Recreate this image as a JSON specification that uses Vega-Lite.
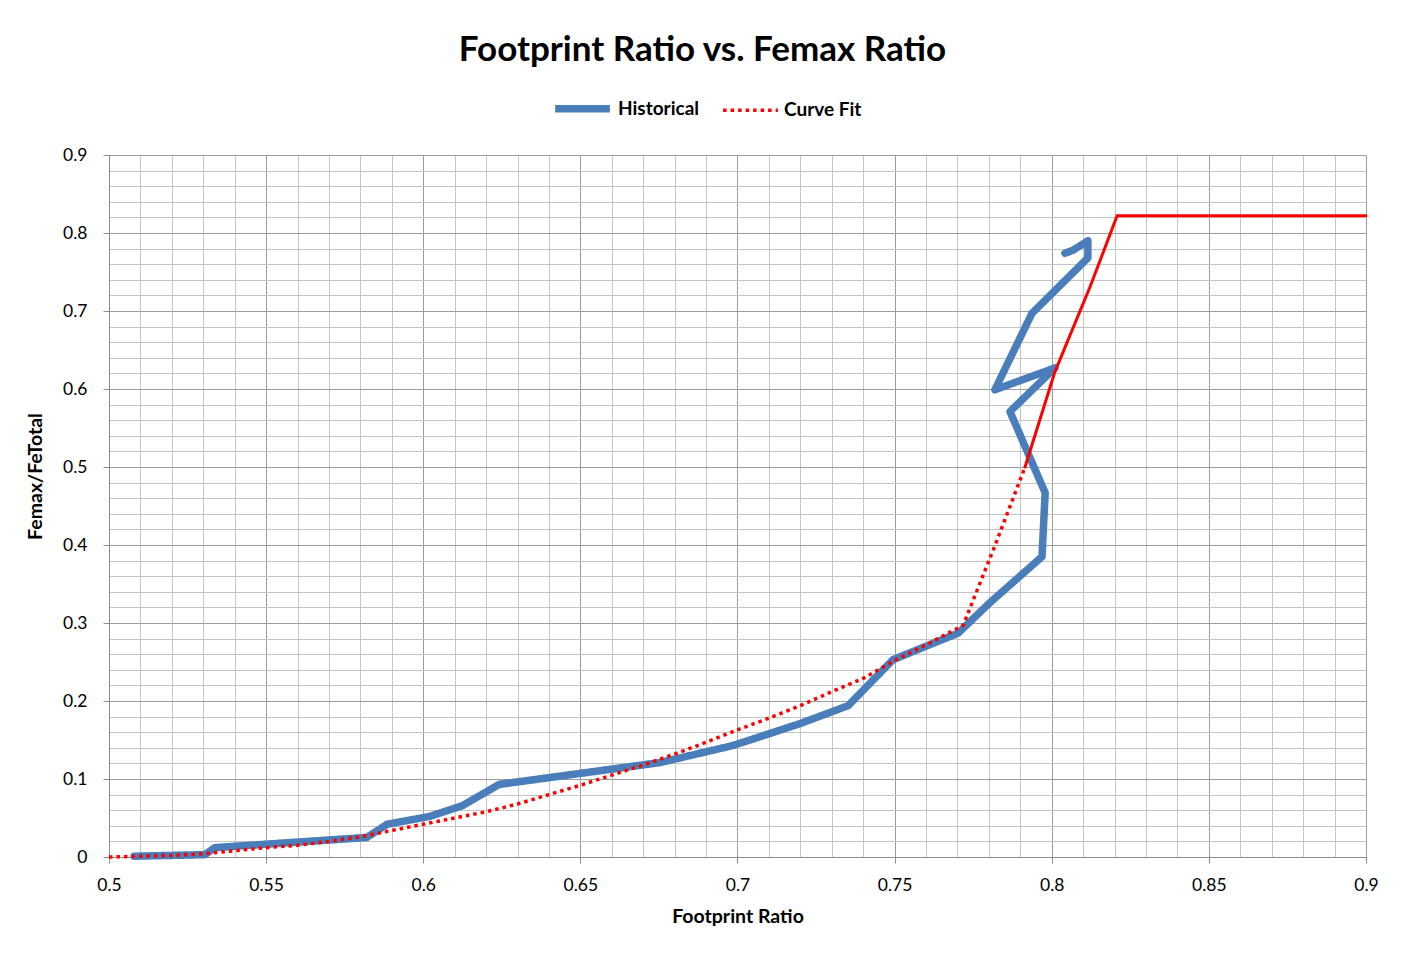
{
  "$schema": "https://vega.github.io/schema/vega-lite/v6.json",
  "width": 1257,
  "height": 702,
  "autosize": {"type": "none"},
  "padding": {"left": 109, "top": 155, "right": 42, "bottom": 102},
  "background": "white",
  "title": {"text": "Footprint Ratio vs. Femax Ratio", "font": "Lato", "fontSize": 35, "fontWeight": "bold", "color": "black", "anchor": "middle", "dx": -35, "offset": 9},
  "config": {
    "view": {"stroke": null},
    "axis": {"labelFont": "Lato", "labelFontSize": 17.5, "labelColor": "black", "titleFont": "Lato", "titleFontSize": 19.5, "titleFontWeight": "bold", "titleColor": "black", "format": "~g", "labelFlush": false}
  },
  "datasets": {
    "hist": [
      {"series": "Historical", "i": 1, "x": 0.508, "y": 0.001},
      {"series": "Historical", "i": 2, "x": 0.5305, "y": 0.003},
      {"series": "Historical", "i": 3, "x": 0.5337, "y": 0.012},
      {"series": "Historical", "i": 4, "x": 0.582, "y": 0.025},
      {"series": "Historical", "i": 5, "x": 0.5885, "y": 0.042},
      {"series": "Historical", "i": 6, "x": 0.602, "y": 0.052},
      {"series": "Historical", "i": 7, "x": 0.6126, "y": 0.066},
      {"series": "Historical", "i": 8, "x": 0.6241, "y": 0.093},
      {"series": "Historical", "i": 9, "x": 0.6753, "y": 0.121},
      {"series": "Historical", "i": 10, "x": 0.6986, "y": 0.143},
      {"series": "Historical", "i": 11, "x": 0.7199, "y": 0.171},
      {"series": "Historical", "i": 12, "x": 0.7352, "y": 0.194},
      {"series": "Historical", "i": 13, "x": 0.7495, "y": 0.253},
      {"series": "Historical", "i": 14, "x": 0.7702, "y": 0.287},
      {"series": "Historical", "i": 15, "x": 0.7803, "y": 0.326},
      {"series": "Historical", "i": 16, "x": 0.7969, "y": 0.385},
      {"series": "Historical", "i": 17, "x": 0.7979, "y": 0.467},
      {"series": "Historical", "i": 18, "x": 0.7867, "y": 0.571},
      {"series": "Historical", "i": 19, "x": 0.801, "y": 0.627},
      {"series": "Historical", "i": 20, "x": 0.7819, "y": 0.599},
      {"series": "Historical", "i": 21, "x": 0.7931, "y": 0.692},
      {"series": "Historical", "i": 22, "x": 0.7937, "y": 0.697},
      {"series": "Historical", "i": 23, "x": 0.8115, "y": 0.768},
      {"series": "Historical", "i": 24, "x": 0.8115, "y": 0.79},
      {"series": "Historical", "i": 25, "x": 0.8068, "y": 0.778},
      {"series": "Historical", "i": 26, "x": 0.8042, "y": 0.774}
    ],
    "fit": [
      {"series": "Curve Fit", "x": 0.5, "y": 0.0},
      {"series": "Curve Fit", "x": 0.51, "y": 0.001},
      {"series": "Curve Fit", "x": 0.52, "y": 0.002},
      {"series": "Curve Fit", "x": 0.53, "y": 0.004},
      {"series": "Curve Fit", "x": 0.54, "y": 0.008},
      {"series": "Curve Fit", "x": 0.55, "y": 0.012},
      {"series": "Curve Fit", "x": 0.56, "y": 0.015},
      {"series": "Curve Fit", "x": 0.57, "y": 0.02},
      {"series": "Curve Fit", "x": 0.58, "y": 0.026},
      {"series": "Curve Fit", "x": 0.59, "y": 0.034},
      {"series": "Curve Fit", "x": 0.6, "y": 0.042},
      {"series": "Curve Fit", "x": 0.61, "y": 0.05},
      {"series": "Curve Fit", "x": 0.62, "y": 0.058},
      {"series": "Curve Fit", "x": 0.63, "y": 0.068},
      {"series": "Curve Fit", "x": 0.64, "y": 0.08},
      {"series": "Curve Fit", "x": 0.65, "y": 0.092},
      {"series": "Curve Fit", "x": 0.66, "y": 0.105},
      {"series": "Curve Fit", "x": 0.67, "y": 0.118},
      {"series": "Curve Fit", "x": 0.68, "y": 0.132},
      {"series": "Curve Fit", "x": 0.69, "y": 0.147},
      {"series": "Curve Fit", "x": 0.7, "y": 0.163},
      {"series": "Curve Fit", "x": 0.71, "y": 0.178},
      {"series": "Curve Fit", "x": 0.72, "y": 0.194},
      {"series": "Curve Fit", "x": 0.73, "y": 0.212},
      {"series": "Curve Fit", "x": 0.74, "y": 0.229},
      {"series": "Curve Fit", "x": 0.75, "y": 0.252},
      {"series": "Curve Fit", "x": 0.76, "y": 0.272},
      {"series": "Curve Fit", "x": 0.7718, "y": 0.297},
      {"series": "Curve Fit", "x": 0.782, "y": 0.4},
      {"series": "Curve Fit", "x": 0.7915, "y": 0.5},
      {"series": "Curve Fit", "x": 0.801, "y": 0.622},
      {"series": "Curve Fit", "x": 0.8122, "y": 0.731},
      {"series": "Curve Fit", "x": 0.8208, "y": 0.822},
      {"series": "Curve Fit", "x": 0.9, "y": 0.822}
    ]
  },
  "resolve": {"axis": {"x": "independent", "y": "independent"}},
  "layer": [
    {
      "data": {"name": "hist"},
      "mark": {"type": "point", "opacity": 0},
      "encoding": {
        "x": {"field": "x", "type": "quantitative", "scale": {"domain": [0.5, 0.9], "nice": false, "zero": false},
          "axis": {"orient": "bottom", "values": [0.5,0.51,0.52,0.53,0.54,0.55,0.56,0.57,0.58,0.59,0.6,0.61,0.62,0.63,0.64,0.65,0.66,0.67,0.68,0.69,0.7,0.71,0.72,0.73,0.74,0.75,0.76,0.77,0.78,0.79,0.8,0.81,0.82,0.83,0.84,0.85,0.86,0.87,0.88,0.89,0.9], "grid": true, "gridColor": "#c4c4c4", "gridWidth": 1, "gridOpacity": 1, "labels": false, "ticks": false, "domain": false, "title": null}},
        "y": {"field": "y", "type": "quantitative", "scale": {"domain": [0, 0.9], "nice": false, "zero": false},
          "axis": {"orient": "left", "values": [0,0.02,0.04,0.06,0.08,0.1,0.12,0.14,0.16,0.18,0.2,0.22,0.24,0.26,0.28,0.3,0.32,0.34,0.36,0.38,0.4,0.42,0.44,0.46,0.48,0.5,0.52,0.54,0.56,0.58,0.6,0.62,0.64,0.66,0.68,0.7,0.72,0.74,0.76,0.78,0.8,0.82,0.84,0.86,0.88,0.9], "grid": true, "gridColor": "#c4c4c4", "gridWidth": 1, "gridOpacity": 1, "labels": false, "ticks": false, "domain": false, "title": null}}
      }
    },
    {
      "data": {"name": "hist"},
      "mark": {"type": "line", "strokeCap": "round", "strokeJoin": "round"},
      "encoding": {
        "x": {"field": "x", "type": "quantitative",
          "axis": {"orient": "bottom", "values": [0.5,0.55,0.6,0.65,0.7,0.75,0.8,0.85,0.9], "grid": true, "gridColor": "#9c9c9c", "gridWidth": 1, "gridOpacity": 1, "domainColor": "#8c8c8c", "tickColor": "#8c8c8c", "tickSize": 6, "labelPadding": 13, "title": "Footprint Ratio", "titlePadding": 14}},
        "y": {"field": "y", "type": "quantitative",
          "axis": {"orient": "left", "values": [0,0.1,0.2,0.3,0.4,0.5,0.6,0.7,0.8,0.9], "grid": true, "gridColor": "#9c9c9c", "gridWidth": 1, "gridOpacity": 1, "domainColor": "#8c8c8c", "tickColor": "#8c8c8c", "tickSize": 6, "labelPadding": 16, "title": "Femax/FeTotal", "titleX": -64, "titleY": 321}},
        "order": {"field": "i", "type": "quantitative"},
        "color": {"field": "series", "type": "nominal", "scale": {"domain": ["Historical", "Curve Fit"], "range": ["#4a7ebb", "#ff0000"]},
          "legend": {"title": null, "orient": "none", "legendX": 442, "legendY": -78, "direction": "horizontal", "labelFont": "Lato", "labelFontSize": 19, "labelFontWeight": "bold", "labelColor": "black", "symbolType": "stroke", "symbolSize": 3000, "columnPadding": 16, "labelOffset": 4}},
        "strokeDash": {"field": "series", "type": "nominal", "scale": {"domain": ["Historical", "Curve Fit"], "range": [[1, 0], [3.5, 4]]},
          "legend": {"title": null, "orient": "none", "legendX": 442, "legendY": -78, "direction": "horizontal", "labelFont": "Lato", "labelFontSize": 19, "labelFontWeight": "bold", "labelColor": "black", "symbolType": "stroke", "symbolSize": 3000, "columnPadding": 16, "labelOffset": 4}},
        "strokeWidth": {"field": "series", "type": "nominal", "scale": {"domain": ["Historical", "Curve Fit"], "range": [7.5, 3.5]},
          "legend": {"title": null, "orient": "none", "legendX": 442, "legendY": -78, "direction": "horizontal", "labelFont": "Lato", "labelFontSize": 19, "labelFontWeight": "bold", "labelColor": "black", "symbolType": "stroke", "symbolSize": 3000, "columnPadding": 16, "labelOffset": 4}}
      }
    },
    {
      "data": {"name": "fit"},
      "transform": [{"filter": "datum.x <= 0.7916"}],
      "mark": {"type": "line", "strokeCap": "butt"},
      "encoding": {
        "x": {"field": "x", "type": "quantitative", "axis": null},
        "y": {"field": "y", "type": "quantitative", "axis": null},
        "color": {"field": "series", "type": "nominal"},
        "strokeDash": {"field": "series", "type": "nominal"},
        "strokeWidth": {"field": "series", "type": "nominal"}
      }
    },
    {
      "data": {"name": "fit"},
      "transform": [{"filter": "datum.x >= 0.7914"}],
      "mark": {"type": "line", "color": "#ff0000", "strokeWidth": 3, "strokeCap": "round"},
      "encoding": {
        "x": {"field": "x", "type": "quantitative", "axis": null},
        "y": {"field": "y", "type": "quantitative", "axis": null}
      }
    }
  ]
}
